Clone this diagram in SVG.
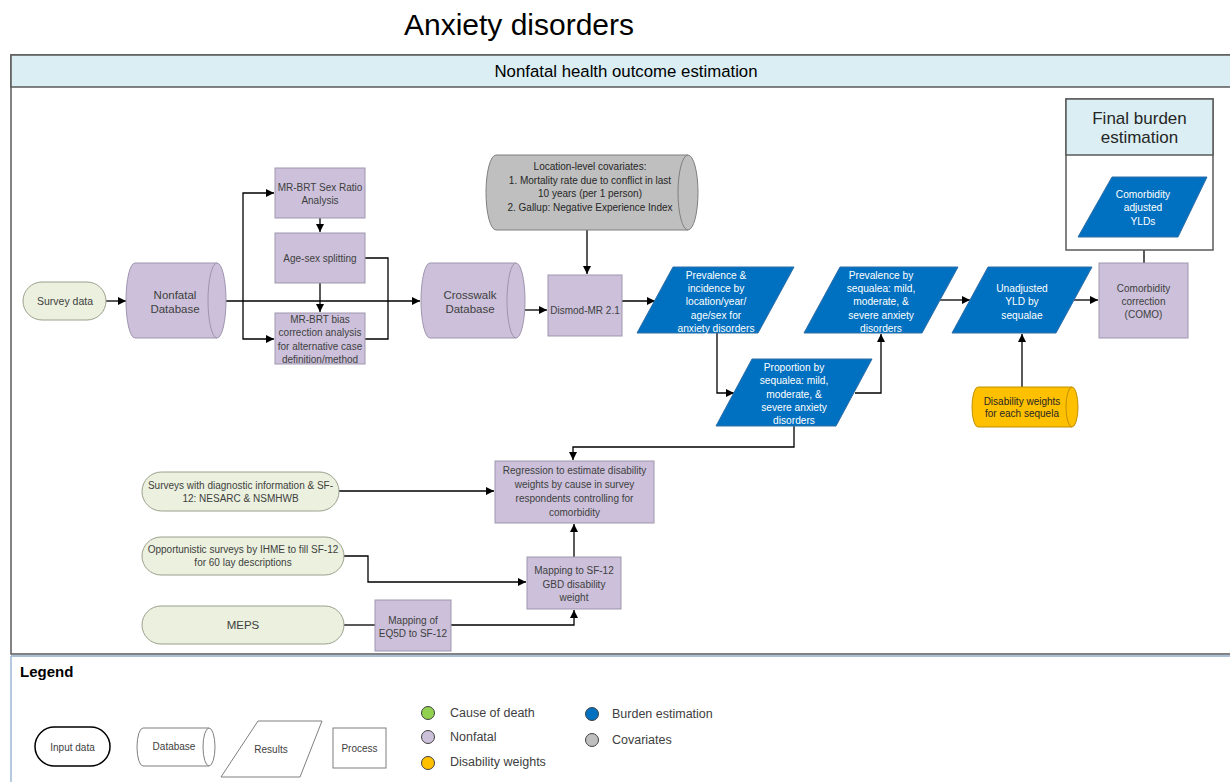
<svg xmlns="http://www.w3.org/2000/svg" width="1230" height="782" viewBox="0 0 1230 782">
<defs>
<marker id="arr" viewBox="0 0 10 10" refX="10" refY="5" markerWidth="9" markerHeight="8" markerUnits="userSpaceOnUse" orient="auto"><path d="M0,0 L10,5 L0,10 z" fill="#000"/></marker>
<style>
text{font-family:"Liberation Sans",Arial,sans-serif;dominant-baseline:central;text-anchor:middle}
.t{font-size:10px;fill:#404040}
.w{font-size:10.2px;fill:#fff}
.nf{fill:#CCC0DA;stroke:#9E95AD;stroke-width:1}
.bl{fill:#0070C0;stroke:#2F6EA8;stroke-width:1}
.in{fill:#EBF1DE;stroke:#9AA08C;stroke-width:1}
.gr{fill:#BFBFBF;stroke:#7F7F7F;stroke-width:1}
.yl{fill:#FFC000;stroke:#BF9000;stroke-width:1}
.lg{fill:#fff;stroke:#7F7F7F;stroke-width:1}
.c{fill:none;stroke:#000;stroke-width:1.3}
.a{marker-end:url(#arr)}
.dot{stroke:#404040;stroke-width:1}
.lt{font-size:12.5px;fill:#404040;text-anchor:start}
</style>
</defs>
<rect width="1230" height="782" fill="#fff"/>
<text x="519" y="24.5" style="font-size:30px;fill:#000">Anxiety disorders</text>
<g id="frame">
<rect x="11" y="55" width="1240" height="599" fill="#fff" stroke="#595959" stroke-width="1.5"/>
<rect x="11" y="55" width="1240" height="32" fill="#DAEEF3" stroke="#595959" stroke-width="1.5"/>
<text x="626" y="71" style="font-size:16.8px;fill:#000">Nonfatal health outcome estimation</text>
<path d="M11,656 H1230" stroke="#A9C0D6" stroke-width="2" fill="none"/>
<path d="M11,656 V782" stroke="#9DB9D5" stroke-width="1.5" fill="none"/>
</g>
<g id="connectors">
<path class="c a" d="M106,301 H126"/>
<path class="c a" d="M226,301 H420"/>
<path class="c a" d="M243,301 V193 H274"/>
<path class="c a" d="M243,301 V339 H274"/>
<path class="c a" d="M320,218 V232"/>
<path class="c a" d="M320,283 V312"/>
<path class="c" d="M365,258 H388 V339 H365"/>
<path class="c a" d="M525,310 H547"/>
<path class="c a" d="M587,230 V274"/>
<path class="c a" d="M622,301 H655"/>
<path class="c a" d="M717,333 V393 H734"/>
<path class="c a" d="M855,393 H881 V334"/>
<path class="c a" d="M940,300 H970"/>
<path class="c a" d="M1074,300 H1098"/>
<path class="c a" d="M1144,263 V238"/>
<path class="c a" d="M1022,387 V334"/>
<path class="c a" d="M794,426 V447 H573 V460"/>
<path class="c a" d="M339,491 H494"/>
<path class="c a" d="M344,556 H368 V582 H526"/>
<path class="c a" d="M574,557 V524"/>
<path class="c" d="M344,625 H375"/>
<path class="c a" d="M451,625 H574 V610"/>
</g>
<g id="survey-data">
<rect class="in" x="23" y="282" width="83" height="38" rx="19"/>
<text class="t" x="65" y="301" style="font-size:10.5px">Survey data</text>
</g>
<g id="nonfatal-db">
<path class="nf" d="M135,263 H217 A9,37.5 0 0 1 217,338 H135 A9,37.5 0 0 1 135,263 Z"/>
<path class="nf" fill="none" d="M217,263 A9,37.5 0 0 0 217,338"/>
<text class="t" x="175" y="295" style="font-size:11.5px">Nonfatal</text>
<text class="t" x="175" y="309" style="font-size:11.5px">Database</text>
</g>
<g id="sex-ratio">
<rect class="nf" x="275" y="168" width="90" height="50"/>
<text class="t" x="320" y="187">MR-BRT Sex Ratio</text>
<text class="t" x="320" y="200">Analysis</text>
</g>
<g id="age-sex">
<rect class="nf" x="275" y="233" width="90" height="50"/>
<text class="t" x="320" y="258">Age-sex splitting</text>
</g>
<g id="bias-correction">
<rect class="nf" x="275" y="313" width="90" height="51"/>
<text class="t" x="320" y="319">MR-BRT bias</text>
<text class="t" x="320" y="332.5">correction analysis</text>
<text class="t" x="320" y="346">for alternative case</text>
<text class="t" x="320" y="359">definition/method</text>
</g>
<g id="crosswalk-db">
<path class="nf" d="M430,263 H516 A9,37.5 0 0 1 516,338 H430 A9,37.5 0 0 1 430,263 Z"/>
<path class="nf" fill="none" d="M516,263 A9,37.5 0 0 0 516,338"/>
<text class="t" x="470" y="295" style="font-size:11.5px">Crosswalk</text>
<text class="t" x="470" y="309" style="font-size:11.5px">Database</text>
</g>
<g id="covariates">
<path class="gr" d="M496,155 H688 A10,37.5 0 0 1 688,230 H496 A10,37.5 0 0 1 496,155 Z"/>
<path class="gr" fill="none" d="M688,155 A10,37.5 0 0 0 688,230"/>
<text class="t" x="590" y="166" style="fill:#262626">Location-level covariates:</text>
<text class="t" x="590" y="180" style="fill:#262626">1. Mortality rate due to conflict in last</text>
<text class="t" x="590" y="193.5" style="fill:#262626">10 years (per 1 person)</text>
<text class="t" x="590" y="207" style="fill:#262626">2. Gallup: Negative Experience Index</text>
</g>
<g id="dismod">
<rect class="nf" x="548" y="275" width="74" height="61"/>
<text class="t" x="585" y="310">Dismod-MR 2.1</text>
</g>
<g id="prevalence-incidence">
<path class="bl" d="M673,267 H794 L758,333 H637 Z"/>
<text class="w" x="716" y="275">Prevalence &amp;</text>
<text class="w" x="716" y="288">incidence by</text>
<text class="w" x="716" y="301.5">location/year/</text>
<text class="w" x="716" y="315">age/sex for</text>
<text class="w" x="716" y="328">anxiety disorders</text>
</g>
<g id="proportion">
<path class="bl" d="M752,359 H872 L836,426 H716 Z"/>
<text class="w" x="794" y="367">Proportion by</text>
<text class="w" x="794" y="380.5">sequalea: mild,</text>
<text class="w" x="794" y="394">moderate, &amp;</text>
<text class="w" x="794" y="407">severe anxiety</text>
<text class="w" x="794" y="420">disorders</text>
</g>
<g id="prevalence-sequelae">
<path class="bl" d="M840,267 H958 L922,333 H804 Z"/>
<text class="w" x="881" y="275">Prevalence by</text>
<text class="w" x="881" y="288">sequalea: mild,</text>
<text class="w" x="881" y="301.5">moderate, &amp;</text>
<text class="w" x="881" y="315">severe anxiety</text>
<text class="w" x="881" y="328">disorders</text>
</g>
<g id="unadjusted-yld">
<path class="bl" d="M988,267 H1092 L1056,333 H952 Z"/>
<text class="w" x="1022" y="288">Unadjusted</text>
<text class="w" x="1022" y="301.5">YLD by</text>
<text class="w" x="1022" y="315">sequalae</text>
</g>
<g id="disability-weights">
<path class="yl" d="M978,387 H1072 A6,20 0 0 1 1072,427 H978 A6,20 0 0 1 978,387 Z"/>
<path class="yl" fill="none" d="M1072,387 A6,20 0 0 0 1072,427"/>
<text class="t" x="1022" y="401" style="fill:#262626">Disability weights</text>
<text class="t" x="1022" y="413" style="fill:#262626">for each sequela</text>
</g>
<g id="como">
<rect class="nf" x="1099" y="263" width="89" height="75"/>
<text class="t" x="1143.5" y="288">Comorbidity</text>
<text class="t" x="1143.5" y="301">correction</text>
<text class="t" x="1143.5" y="314">(COMO)</text>
</g>
<g id="final-burden">
<rect x="1066" y="99" width="147" height="151" fill="#fff" stroke="#595959" stroke-width="1.5"/>
<rect x="1066" y="99" width="147" height="56" fill="#DAEEF3" stroke="#595959" stroke-width="1.5"/>
<text x="1139.5" y="118" style="font-size:17px;fill:#262626">Final burden</text>
<text x="1139.5" y="137" style="font-size:17px;fill:#262626">estimation</text>
</g>
<g id="comorbidity-adjusted">
<path class="bl" d="M1112,177 H1207 L1178,237 H1078 Z"/>
<text class="w" x="1143" y="194">Comorbidity</text>
<text class="w" x="1143" y="207.5">adjusted</text>
<text class="w" x="1143" y="221">YLDs</text>
</g>
<g id="regression">
<rect class="nf" x="495" y="461" width="159" height="62"/>
<text class="t" x="574.5" y="470">Regression to estimate disability</text>
<text class="t" x="574.5" y="484">weights by cause in survey</text>
<text class="t" x="574.5" y="498">respondents controlling for</text>
<text class="t" x="574.5" y="512">comorbidity</text>
</g>
<g id="surveys-diagnostic">
<rect class="in" x="142" y="472" width="197" height="39" rx="19.5"/>
<text class="t" x="240.5" y="485">Surveys with diagnostic information &amp; SF-</text>
<text class="t" x="240.5" y="498">12: NESARC &amp; NSMHWB</text>
</g>
<g id="opportunistic">
<rect class="in" x="142" y="537" width="202" height="38" rx="19"/>
<text class="t" x="243" y="549">Opportunistic surveys by IHME to fill SF-12</text>
<text class="t" x="243" y="562">for 60 lay descriptions</text>
</g>
<g id="meps">
<rect class="in" x="142" y="606" width="202" height="38" rx="19"/>
<text class="t" x="243" y="625" style="font-size:11.5px">MEPS</text>
</g>
<g id="mapping-eq5d">
<rect class="nf" x="375" y="600" width="76" height="51"/>
<text class="t" x="413" y="620">Mapping of</text>
<text class="t" x="413" y="633">EQ5D to SF-12</text>
</g>
<g id="mapping-sf12">
<rect class="nf" x="527" y="557" width="94" height="52"/>
<text class="t" x="574" y="570">Mapping to SF-12</text>
<text class="t" x="574" y="584">GBD disability</text>
<text class="t" x="574" y="597">weight</text>
</g>
<g id="legend">
<text x="20" y="671" style="font-size:15px;font-weight:bold;fill:#000;text-anchor:start">Legend</text>
<rect x="35" y="727" width="75" height="39" rx="19.5" fill="#fff" stroke="#000" stroke-width="1.5"/>
<text class="t" x="72.5" y="747">Input data</text>
<path class="lg" d="M143,728 H209 A6,19 0 0 1 209,766 H143 A6,19 0 0 1 143,728 Z"/>
<path class="lg" fill="none" d="M209,728 A6,19 0 0 0 209,766"/>
<text class="t" x="174" y="746">Database</text>
<path class="lg" d="M258,721 H322 L300,777 H221 Z"/>
<text class="t" x="271" y="749">Results</text>
<rect class="lg" x="333" y="728" width="53" height="40"/>
<text class="t" x="359.5" y="748">Process</text>
<circle class="dot" cx="428" cy="713" r="6.5" fill="#92D050"/>
<circle class="dot" cx="428" cy="737" r="6.5" fill="#CCC0DA"/>
<circle class="dot" cx="428" cy="763" r="6.5" fill="#FFC000"/>
<circle class="dot" cx="592" cy="714" r="6.5" fill="#0070C0"/>
<circle class="dot" cx="592" cy="740" r="6.5" fill="#BFBFBF"/>
<text class="lt" x="450" y="713">Cause of death</text>
<text class="lt" x="450" y="737">Nonfatal</text>
<text class="lt" x="450" y="762">Disability weights</text>
<text class="lt" x="612" y="714">Burden estimation</text>
<text class="lt" x="612" y="740">Covariates</text>
</g>
</svg>
